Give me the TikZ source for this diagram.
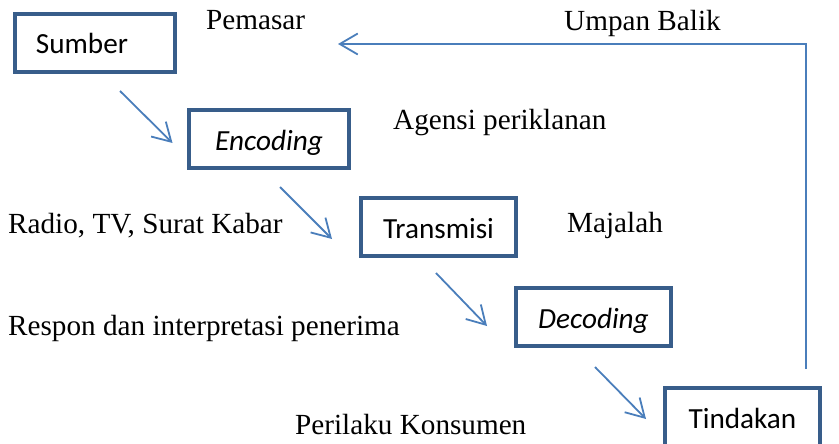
\documentclass[tikz,border=0pt]{standalone}
\usepackage{fontspec}
\setmainfont{Liberation Serif}
\newfontfamily\calibri{Carlito}
\usetikzlibrary{arrows.meta}
\definecolor{arrowblue}{RGB}{74,126,187}
\definecolor{boxblue}{RGB}{56,93,138}
\begin{document}
\begin{tikzpicture}[x=1pt,y=-1pt,
  stepbox/.style={draw=boxblue, line width=4.5pt, inner sep=0pt,
    minimum height=58pt, text height=22pt, text depth=0pt,
    font=\calibri\fontsize{29.2}{33}\selectfont},
  lbl/.style={anchor=base west, inner sep=0pt, font=\fontsize{29.2}{33}\selectfont},
  flow/.style={draw=arrowblue, line width=1.8pt,
    -{Straight Barb[length=18pt,width=21pt,line width=1.8pt]}}]
\useasboundingbox (0,0) rectangle (839,444);
% boxes
\node[stepbox, minimum width=160pt] (sumber) at (95,43) {Sumber\kern26pt};
\node[stepbox, minimum width=160pt] (enc) at (269,139) {\itshape Encoding};
\node[stepbox, minimum width=155pt] (trans) at (438.5,227) {Transmisi};
\node[stepbox, minimum width=155pt] (dec) at (593.5,317) {\itshape Decoding};
\node[stepbox, minimum width=155pt] (tind) at (742.5,417) {Tindakan};
% labels
\node[lbl] (pemasar) at (206,30) {Pemasar};
\node[lbl] (umpan) at (564,30.7) {Umpan Balik};
\node[lbl] (agensi) at (393,130) {Agensi periklanan};
\node[lbl] (radio) at (8,233) {Radio, TV, Surat Kabar};
\node[lbl] (majalah) at (567,232) {Majalah};
\node[lbl] (respon) at (8,335) {Respon dan interpretasi penerima};
\node[lbl] (perilaku) at (295,434) {Perilaku Konsumen};
% connector end points
\coordinate (a1s) at (120,91);  \coordinate (a1e) at (172.5,143);
\coordinate (a2s) at (280,187); \coordinate (a2e) at (332,239);
\coordinate (a3s) at (436,273); \coordinate (a3e) at (487,326);
\coordinate (a4s) at (595,367); \coordinate (a4e) at (646,419);
\coordinate (fbs) at (806,369); \coordinate (fbc) at (806,44);
\coordinate (fbe) at (338,44);
% connectors
\draw[flow] (a1s) -- (a1e);
\draw[flow] (a2s) -- (a2e);
\draw[flow] (a3s) -- (a3e);
\draw[flow] (a4s) -- (a4e);
\draw[flow] (fbs) -- (fbc) -- (fbe);
\end{tikzpicture}
\end{document}
